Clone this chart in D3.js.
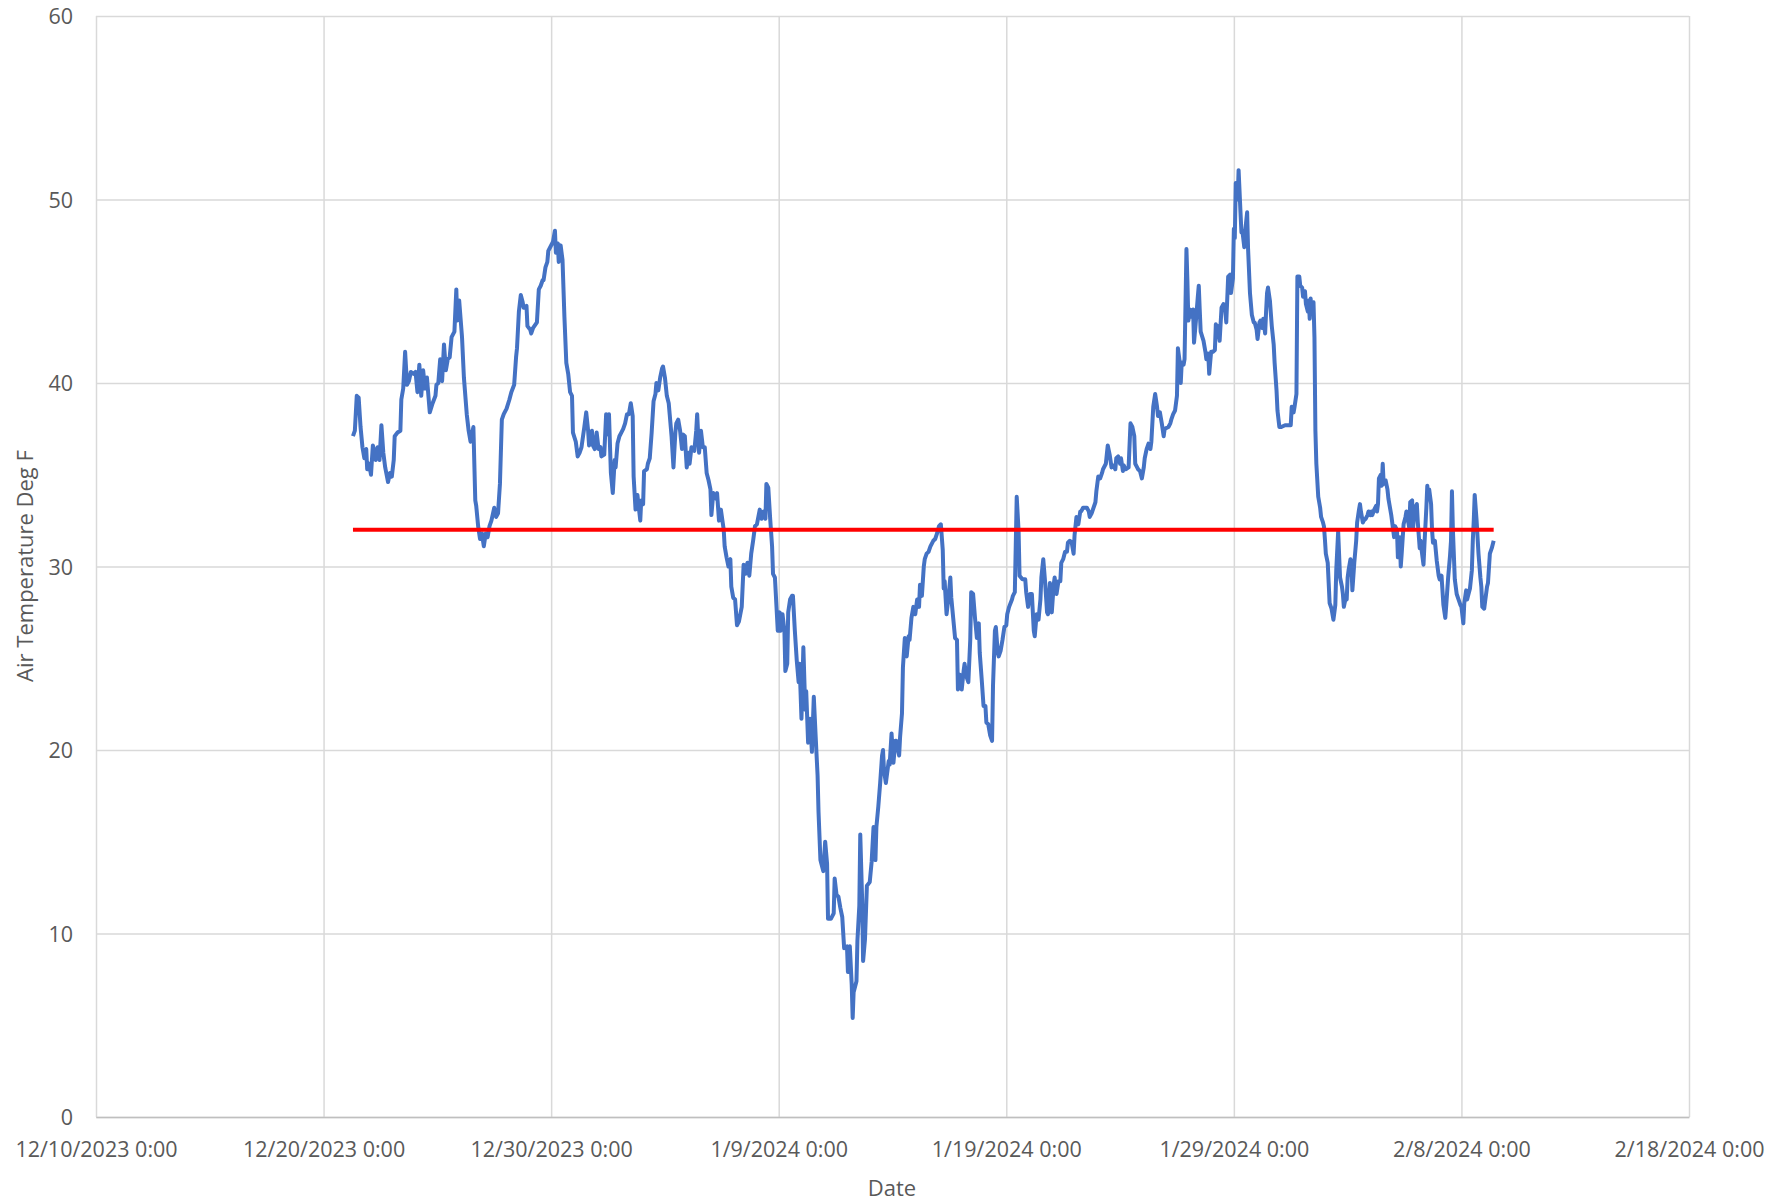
<!DOCTYPE html>
<html>
<head>
<meta charset="utf-8">
<title>Air Temperature</title>
<script src="https://cdn.jsdelivr.net/npm/d3@7"></script>
<style>
  body { margin: 0; background: #fff; }
  text { font-family: "Open Sans", "Liberation Sans", sans-serif; fill: #595959; }
</style>
</head>
<body>
<svg id="chart" width="1769" height="1204"></svg>
<script>
// Series start time; readings are stored as hours after it
const seriesStart = "2023-12-21 00:00";

const hourOffsets = [
  7, 9, 11, 13, 15, 17, 19, 21, 22, 24, 26, 28, 30, 31, 33, 35, 37, 39, 41, 44, 46, 48, 50, 51, 54, 57, 58, 60, 62, 64,
  66, 68, 71, 73, 75, 77, 79, 81, 83, 85, 88, 91, 94, 95, 97, 99, 101, 103, 105, 107, 109, 111, 114, 116, 117, 119, 122, 124, 127, 129,
  131, 134, 136, 137, 139, 141, 143, 145, 147, 149, 151, 153, 156, 158, 160, 162, 164, 166, 169, 172, 174, 177, 179, 180, 182, 184, 186, 187, 190, 191,
  194, 195, 197, 201, 203, 205, 207, 208, 210, 212, 213, 215, 218, 220, 221, 223, 224, 226, 228, 230, 232, 234, 236, 238, 239, 242, 244, 246, 248, 251,
  253, 255, 256, 259, 260, 262, 264, 266, 268, 269, 272, 274, 275, 277, 279, 281, 283, 284, 286, 288, 290, 292, 294, 296, 298, 300, 302, 303, 305, 307,
  310, 311, 313, 314, 317, 318, 320, 322, 324, 326, 327, 329, 331, 333, 334, 336, 338, 340, 341, 343, 345, 347, 348, 350, 352, 354, 355, 357, 359, 361,
  362, 364, 367, 369, 370, 372, 374, 376, 378, 380, 382, 384, 385, 387, 390, 391, 393, 395, 398, 399, 401, 403, 405, 406, 408, 410,
  412, 414, 417, 419, 421, 423, 425, 427, 429, 431, 433, 436, 438, 440, 442, 443, 445, 447, 449, 450, 452, 455, 457, 458, 460, 462, 463, 465, 466, 468,
  470, 471, 473, 475, 477, 478, 480, 482, 484, 485, 487, 489, 491, 492, 493, 495, 497, 498, 500, 501, 503, 505, 507, 508, 511, 514, 515, 517, 519, 521,
  523, 525, 528, 529, 531, 533, 534, 535, 538, 539, 541, 542, 544, 545, 547, 549, 552, 554, 556, 558, 559, 561, 563, 565, 566, 567, 569, 572, 573, 575,
  577, 579, 580, 583, 584, 586, 587, 589, 591, 593, 594, 596, 598, 600, 602, 604, 605, 607, 609, 610, 612, 614, 616, 619, 621, 623, 625, 627, 629, 630,
  631, 633, 635, 637, 638, 640, 642, 644, 645, 647, 649, 651, 652, 654, 656, 658, 659, 661, 663, 665, 667, 668, 670, 672, 674, 675, 677, 679, 681, 682,
  684, 685, 687, 688, 690, 692, 694, 696, 697, 699, 702, 703, 705, 707, 709, 710, 713, 716, 717, 719, 721, 723, 725, 726, 728, 730, 732, 733, 735, 737,
  739, 740, 742, 744, 746, 747, 749, 751, 753, 754, 756, 758, 760, 761, 763, 765, 767, 768, 770, 772, 774, 775, 777, 781, 783, 784, 786, 790, 791, 793,
  795, 797, 798, 801, 803, 805, 807, 809, 811, 812, 814, 816, 817, 819, 820, 822, 825, 827, 829, 831, 832, 834, 835, 837, 839, 841, 842, 844, 846, 848,
  849, 851, 853, 855, 856, 858, 860, 862, 863, 867, 869, 870, 872, 874, 876, 877, 879, 880, 881, 883, 884, 886, 887, 888, 890, 892, 893, 894, 896, 898,
  899, 900, 901, 904, 906, 907, 909, 910, 912, 914, 916, 917, 919, 920, 921, 923, 925, 927, 928, 930, 932, 933, 935, 936, 937, 938, 940, 941, 943, 944,
  945, 947, 948, 950, 951, 953, 955, 957, 958, 960, 961, 963, 964, 966, 967, 969, 970, 971, 972, 974, 976, 978, 979, 981, 982, 984, 986, 990, 993, 996,
  997, 999, 1000, 1002, 1003, 1005, 1006, 1008, 1009, 1011, 1012, 1014, 1015, 1016, 1017, 1018, 1020, 1021, 1022, 1023, 1025, 1027, 1028, 1030, 1031, 1032,
  1033, 1035, 1036, 1037, 1039, 1041, 1043, 1044, 1046, 1048, 1050, 1051, 1052, 1054, 1055, 1056, 1057, 1059, 1060, 1061, 1063, 1065, 1066, 1068, 1069, 1070,
  1072, 1073, 1075, 1077, 1078, 1080, 1081, 1082, 1084, 1086, 1087, 1088, 1089, 1091, 1092, 1093, 1094, 1096, 1098, 1099, 1101, 1102, 1104, 1105, 1106, 1108,
  1109, 1111, 1112, 1113, 1115, 1117, 1118, 1119, 1121, 1122, 1124, 1125, 1126, 1127, 1129, 1130, 1132, 1133, 1134, 1136, 1137, 1139, 1140, 1141, 1142, 1144,
  1145, 1146, 1148, 1150, 1152, 1153, 1155, 1157, 1159, 1160, 1162, 1164, 1165, 1166, 1167, 1169, 1171, 1173, 1175, 1176, 1178, 1179, 1181, 1182, 1183, 1185,
  1187, 1188, 1189, 1190, 1192, 1194, 1196, 1197, 1198, 1200, 1201, 1203, 1204, 1206, 1208, 1210
];

const airTempF = [
  37.1, 37.4, 39.3, 39.2, 37.6, 36.5, 35.9, 36.4, 35.3, 35.6, 35.0, 36.6, 36.2, 35.8, 36.5, 35.8, 37.7, 36.2, 35.4, 34.6, 35.1, 34.9, 35.8, 37.1, 37.3, 37.4, 39.1, 39.7, 41.7, 39.9,
  40.1, 40.6, 40.5, 40.6, 39.5, 41.0, 39.3, 40.7, 39.7, 40.3, 38.4, 38.9, 39.3, 39.9, 40.0, 41.3, 40.1, 42.1, 40.7, 41.3, 41.4, 42.5, 42.8, 45.1, 43.4, 44.5, 42.5, 40.3, 38.3, 37.4,
  36.8, 37.6, 33.6, 33.3, 32.2, 31.5, 31.8, 31.1, 31.8, 31.6, 32.2, 32.5, 33.2, 32.7, 32.9, 34.5, 38.0, 38.3, 38.6, 39.1, 39.5, 39.9, 41.4, 41.9, 43.9, 44.8, 44.4, 44.1, 44.2, 43.1,
  42.9, 42.7, 43.0, 43.3, 45.1, 45.3, 45.6, 45.6, 46.3, 46.6, 47.2, 47.4, 47.7, 48.3, 47.1, 47.6, 46.6, 47.5, 46.7, 43.6, 41.1, 40.5, 39.5, 39.3, 37.3, 36.8, 36.0, 36.2, 36.5, 37.6,
  38.4, 37.4, 36.6, 37.4, 36.6, 36.4, 37.3, 36.4, 36.5, 36.0, 36.1, 38.3, 37.2, 38.3, 35.1, 34.0, 35.8, 35.4, 36.7, 37.1, 37.3, 37.5, 37.8, 38.3, 38.3, 38.9, 38.2, 34.9, 33.1, 33.9,
  32.5, 33.6, 33.4, 35.2, 35.3, 35.6, 35.9, 37.3, 39.0, 39.4, 40.0, 39.6, 40.3, 40.8, 40.9, 40.3, 39.3, 38.9, 38.3, 37.1, 35.4, 37.3, 37.8, 38.0, 37.4, 36.4, 37.2, 37.1, 35.4, 36.2,
  35.6, 36.5, 36.3, 37.4, 38.3, 36.2, 37.4, 36.5, 36.5, 35.1, 34.7, 34.2, 32.8, 34.0, 33.7, 34.0, 32.5, 33.1, 32.0, 31.1, 30.5, 30.0, 30.4, 28.9, 28.3, 28.2,
  26.8, 27.0, 27.8, 30.1, 29.6, 30.2, 29.5, 30.7, 31.4, 32.2, 32.3, 33.1, 32.6, 33.0, 32.6, 34.5, 34.3, 32.6, 31.1, 29.6, 29.4, 26.5, 27.5, 26.5, 27.4, 26.5, 24.3, 24.7, 27.5, 28.2,
  28.4, 28.4, 26.5, 24.9, 23.7, 24.7, 21.7, 25.6, 22.2, 23.2, 20.4, 21.7, 19.9, 21.4, 22.9, 20.7, 18.6, 16.6, 14.0, 13.8, 13.4, 15.0, 13.8, 10.8, 10.8, 11.1, 13.0, 12.1, 12.0, 11.4,
  10.9, 9.2, 9.3, 7.9, 9.3, 7.2, 5.4, 6.8, 7.4, 9.6, 11.5, 15.4, 11.8, 8.5, 9.7, 12.6, 12.8, 13.9, 15.8, 14.0, 15.8, 16.9, 18.2, 19.7, 20.0, 18.9, 18.2, 19.4, 19.2, 20.9,
  19.3, 20.5, 20.5, 19.7, 20.7, 22.0, 24.5, 26.1, 25.1, 26.2, 26.0, 27.2, 27.8, 27.4, 28.2, 27.8, 29.0, 28.4, 30.0, 30.4, 30.7, 30.8, 31.1, 31.4, 31.5, 31.8, 32.2, 32.3, 30.9, 28.8,
  29.2, 27.4, 28.3, 29.4, 28.3, 27.2, 26.1, 26.0, 23.3, 24.1, 23.3, 24.3, 24.7, 24.0, 23.7, 26.0, 28.6, 28.5, 27.2, 26.1, 26.9, 25.3, 23.9, 22.4, 22.4, 21.5, 21.4, 20.8, 20.5, 23.5,
  26.5, 26.7, 25.3, 25.1, 25.4, 26.0, 26.7, 26.8, 27.4, 27.8, 28.2, 28.4, 28.6, 33.8, 31.9, 29.5, 29.3, 29.3, 28.6, 27.8, 28.5, 28.5, 26.5, 26.2, 27.4, 27.1, 28.2, 29.4, 30.4, 29.1,
  27.5, 27.4, 29.1, 27.5, 29.0, 29.4, 28.5, 29.2, 29.2, 30.2, 30.4, 30.8, 30.8, 31.3, 31.4, 31.3, 30.7, 31.7, 32.7, 32.3, 33.0, 33.0, 33.2, 33.2, 33.0, 32.7, 32.9, 33.5, 34.1, 34.9,
  34.8, 35.1, 35.3, 35.6, 36.6, 36.1, 35.4, 35.5, 35.3, 35.9, 36.0, 35.6, 35.9, 35.2, 35.5, 35.3, 35.4, 37.8, 37.6, 37.1, 35.6, 35.4, 35.3, 35.2, 34.8, 35.4, 35.9, 36.4, 36.7, 36.4,
  36.8, 38.7, 39.4, 38.7, 38.2, 38.4, 37.8, 37.1, 37.5, 37.6, 37.8, 38.0, 38.3, 38.5, 39.3, 41.9, 41.1, 40.0, 41.1, 41.0, 41.3, 47.3, 45.6, 43.4, 44.0, 43.6, 44.0, 42.2, 43.4, 44.7,
  45.3, 44.0, 42.8, 42.3, 41.7, 41.3, 41.6, 40.5, 41.7, 41.7, 41.8, 43.2, 42.5, 43.1, 42.3, 44.1, 44.3, 43.9, 43.3, 45.8, 45.9, 44.9, 45.7, 48.4, 47.9, 50.9, 50.0, 51.6, 49.3, 48.2,
  48.3, 47.4, 48.3, 49.3, 47.3, 44.9, 43.7, 43.3, 43.3, 42.9, 42.4, 43.3, 43.4, 43.0, 43.5, 42.7, 43.9, 44.9, 45.2, 44.5, 43.1, 42.1, 41.1, 39.6, 38.5, 37.6, 37.6, 37.7, 37.7, 37.7,
  38.7, 38.4, 38.7, 39.4, 45.8, 45.8, 45.3, 45.2, 44.7, 45.0, 44.3, 43.9, 44.5, 43.5, 44.6, 43.8, 44.4, 42.5, 37.4, 35.6, 33.8, 33.2, 32.7, 32.4, 32.2, 31.5,
  30.7, 30.2, 29.1, 28.0, 27.7, 27.1, 27.9, 29.8, 31.9, 29.4, 28.9, 28.5, 27.8, 28.3, 28.2, 29.4, 29.8, 30.4, 30.0, 28.7, 30.2, 31.4, 32.4, 33.1, 33.4, 33.0,
  32.4, 32.5, 32.6, 32.8, 33.0, 32.8, 33.0, 32.8, 33.1, 33.3, 33.0, 33.4, 34.8, 35.0, 34.4, 35.6, 34.5, 34.7, 34.2, 33.7, 33.1, 32.8, 32.0, 31.6, 32.2, 32.0,
  30.5, 31.6, 30.0, 30.7, 32.3, 32.7, 33.0, 32.7, 32.1, 33.5, 33.6, 32.1, 32.7, 33.2, 33.4, 32.4, 31.0, 31.4, 30.9, 30.1, 31.2, 33.2, 34.4, 33.8, 34.2, 33.4,
  32.0, 31.3, 31.4, 30.3, 29.5, 29.3, 29.5, 27.9, 27.2, 27.9, 29.4, 30.6, 31.4, 34.1, 32.0, 29.3, 28.5, 28.2, 27.9, 27.8, 26.9, 28.0, 28.7, 28.2, 28.4, 28.8,
  29.8, 31.4, 32.5, 33.9, 32.5, 30.7, 29.4, 28.9, 27.8, 27.7, 28.1, 28.9, 29.1, 30.7, 31.0, 31.4
];

const freezingF = 32;

const xTickDates = ["2023-12-10", "2023-12-20", "2023-12-30", "2024-01-09", "2024-01-19", "2024-01-29", "2024-02-08", "2024-02-18"];
const yTickValues = [0, 10, 20, 30, 40, 50, 60];

const parseTime = d3.timeParse("%Y-%m-%d %H:%M");
const parseDay = d3.timeParse("%Y-%m-%d");
const start = parseTime(seriesStart);

const readings = hourOffsets.map((h, i) => ({ time: d3.timeHour.offset(start, h), temp: airTempF[i] }));
const tickDates = xTickDates.map(parseDay);

const svg = d3.select("#chart");
svg.append("rect").attr("width", 1769).attr("height", 1204).attr("fill", "#fff");

const plot = { left: 96, right: 1689, top: 16, bottom: 1117 };

const x = d3.scaleTime()
  .domain([tickDates[0], tickDates[tickDates.length - 1]])
  .range([plot.left, plot.right]);

const y = d3.scaleLinear()
  .domain([0, 60])
  .range([plot.bottom, plot.top]);

const fmtDate = d => `${d.getMonth() + 1}/${d.getDate()}/${d.getFullYear()} ${d.getHours()}:${String(d.getMinutes()).padStart(2, "0")}`;

// Gridlines
const yGrid = d3.axisLeft(y).tickValues(yTickValues).tickSize(-(plot.right - plot.left)).tickFormat("");
svg.append("g")
  .attr("transform", `translate(${plot.left},0)`)
  .call(yGrid)
  .call(g => g.select(".domain").remove())
  .call(g => g.selectAll("line").attr("stroke", "#d9d9d9").attr("stroke-width", 1.5));

const xGrid = d3.axisBottom(x).tickValues(tickDates).tickSize(-(plot.bottom - plot.top)).tickFormat("");
svg.append("g")
  .attr("transform", `translate(0,${plot.bottom})`)
  .call(xGrid)
  .call(g => g.select(".domain").remove())
  .call(g => g.selectAll("line").attr("stroke", "#d9d9d9").attr("stroke-width", 1.5));

// Axes (labels only, plus the bottom baseline)
const xAxis = d3.axisBottom(x).tickValues(tickDates).tickSize(0).tickPadding(0).tickFormat(fmtDate);
svg.append("g")
  .attr("transform", `translate(0,${plot.bottom})`)
  .call(xAxis)
  .call(g => g.select(".domain").attr("stroke", "#bfbfbf").attr("stroke-width", 1.5))
  .call(g => g.selectAll("text")
    .attr("dy", null)
    .attr("y", 40)
    .style("font-size", "21.5px")
    .attr("fill", "#595959"));

const yAxis = d3.axisLeft(y).tickValues(yTickValues).tickSize(0).tickPadding(23);
svg.append("g")
  .attr("transform", `translate(${plot.left},0)`)
  .call(yAxis)
  .call(g => g.select(".domain").remove())
  .call(g => g.selectAll("text")
    .attr("dy", "0.35em")
    .style("font-size", "21.5px")
    .attr("fill", "#595959"));

// Axis titles
svg.append("text")
  .attr("x", 892)
  .attr("y", 1196)
  .attr("text-anchor", "middle")
  .style("font-size", "22px")
  .text("Date");

svg.append("text")
  .attr("transform", "translate(33,566) rotate(-90)")
  .attr("text-anchor", "middle")
  .style("font-size", "22px")
  .text("Air Temperature Deg F");

// Temperature series
const line = d3.line()
  .x(d => x(d.time))
  .y(d => y(d.temp));

svg.append("path")
  .datum(readings)
  .attr("fill", "none")
  .attr("stroke", "#4472c4")
  .attr("stroke-width", 4)
  .attr("stroke-linejoin", "round")
  .attr("d", line);

// Freezing reference line
const span = d3.extent(readings, d => d.time);
svg.append("path")
  .datum(span.map(t => ({ time: t, temp: freezingF })))
  .attr("fill", "none")
  .attr("stroke", "#ff0000")
  .attr("stroke-width", 4)
  .attr("d", line);
</script>
</body>
</html>
